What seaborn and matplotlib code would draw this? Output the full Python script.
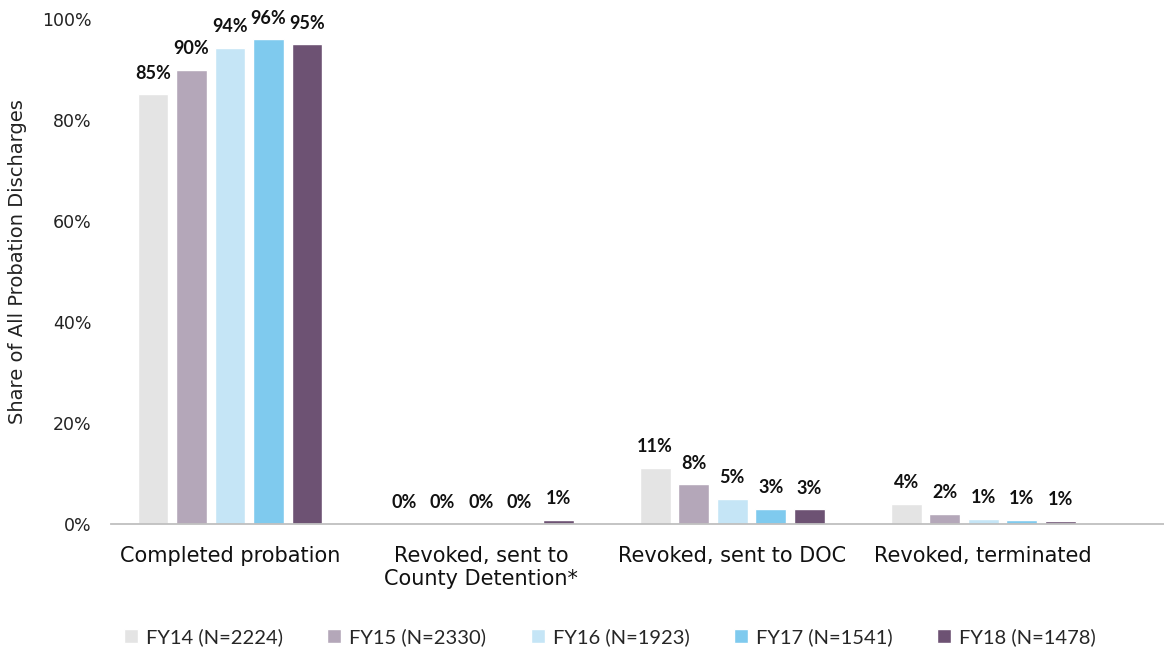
import matplotlib
matplotlib.use("Agg")
import matplotlib.pyplot as plt
import seaborn as sns
import pandas as pd
from matplotlib.ticker import FuncFormatter

categories = ["Completed probation", "Revoked, sent to\nCounty Detention*",
              "Revoked, sent to DOC", "Revoked, terminated"]
series = ["FY14 (N=2224)", "FY15 (N=2330)", "FY16 (N=1923)", "FY17 (N=1541)", "FY18 (N=1478)"]
fy14 = [0.851, 0.0, 0.111, 0.040]
fy15 = [0.900, 0.0, 0.079, 0.020]
fy16 = [0.943, 0.0, 0.050, 0.010]
fy17 = [0.960, 0.0, 0.030, 0.008]
fy18 = [0.950, 0.008, 0.029, 0.006]
labels = {
    "FY14 (N=2224)": ["85%", "0%", "11%", "4%"],
    "FY15 (N=2330)": ["90%", "0%", "8%", "2%"],
    "FY16 (N=1923)": ["94%", "0%", "5%", "1%"],
    "FY17 (N=1541)": ["96%", "0%", "3%", "1%"],
    "FY18 (N=1478)": ["95%", "1%", "3%", "1%"],
}
colors = ["#E4E4E4", "#B4A7B9", "#C5E5F6", "#7FCAEE", "#6D5273"]

rows = []
for s, vals in zip(series, [fy14, fy15, fy16, fy17, fy18]):
    for c, v in zip(categories, vals):
        rows.append({"Category": c, "Series": s, "Value": v})
df = pd.DataFrame(rows)

sns.set_theme(style="white")
plt.rcParams["font.family"] = ["DejaVu Sans"]

fig = plt.figure(figsize=(11.64, 6.5), dpi=100)
ax = fig.add_axes([111/1164, 1 - 524/650, 1 - 111/1164, (524 - 19)/650])

sns.barplot(data=df, x="Category", y="Value", hue="Series", order=categories,
            hue_order=series, palette=colors, width=0.767, gap=0.2,
            saturation=1, ax=ax, legend=True)

for cont, s in zip(ax.containers, series):
    ax.bar_label(cont, labels=labels[s], padding=9, fontsize=13,
                 fontweight="bold", family=["Lato", "DejaVu Sans"], color="#111111")

ax.set_ylim(0, 1.0)
ax.set_xlim(-0.474, 3.72)
ax.set_yticks([0, 0.2, 0.4, 0.6, 0.8, 1.0])
ax.yaxis.set_major_formatter(FuncFormatter(lambda v, p: f"{v*100:.0f}%"))
ax.tick_params(axis="y", length=0, pad=14, labelsize=12.5, labelcolor="#222222")
ax.tick_params(axis="x", length=0, pad=16, labelsize=15, labelcolor="#111111")
for sp in ["top", "right", "left"]:
    ax.spines[sp].set_visible(False)
ax.spines["bottom"].set_color("#BFBFBF")
ax.spines["bottom"].set_linewidth(1.3)
ax.set_xlabel("")
ax.set_ylabel("Share of All Probation Discharges", fontsize=14, color="#222222")
ax.yaxis.set_label_coords(-0.080, 0.52)

handles, lbls = ax.get_legend_handles_labels()
ax.get_legend().remove()
fig.legend(handles, lbls, loc="center", bbox_to_anchor=(0.524, 1 - 637/650), ncol=5,
           frameon=False, handlelength=0.7, handleheight=0.7,
           handletextpad=0.4, columnspacing=2.2,
           prop={"family": ["Lato", "DejaVu Sans"], "size": 14.5})

fig.savefig("out.png", dpi=100)
